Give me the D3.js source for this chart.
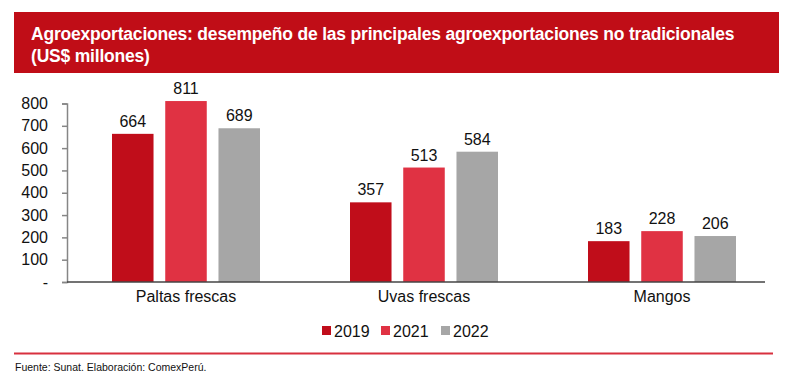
<!DOCTYPE html>
<html><head><meta charset="utf-8">
<script src="https://cdn.jsdelivr.net/npm/d3@7"></script>
<style>body{margin:0;background:#fff;}svg{display:block;font-family:"Liberation Sans",Arial,sans-serif;}</style>
</head><body>
<script>
const categories = ["Paltas frescas", "Uvas frescas", "Mangos"];
const seriesNames = ["2019", "2021", "2022"];
const values2019 = [664, 357, 183];
const values2021 = [811, 513, 228];
const values2022 = [689, 584, 206];
const yTicks = [0, 100, 200, 300, 400, 500, 600, 700, 800];
const colors = ["#C00D1A", "#E03243", "#A6A6A6"];
const title1 = "Agroexportaciones: desempeño de las principales agroexportaciones no tradicionales";
const title2 = "(US$ millones)";
const source = "Fuente: Sunat. Elaboración: ComexPerú.";

const series = [values2019, values2021, values2022];
const W = 794, H = 380;
const svg = d3.select("body").append("svg").attr("width", W).attr("height", H);

// title box
svg.append("rect").attr("x", 14).attr("y", 12).attr("width", 765).attr("height", 61).attr("fill", "#C00D17");
svg.append("text").attr("x", 31).attr("y", 40).attr("fill", "#fff").attr("font-size", 17.5).attr("font-weight", "bold").attr("letter-spacing", -0.2).text(title1);
svg.append("text").attr("x", 31).attr("y", 62).attr("fill", "#fff").attr("font-size", 17.5).attr("font-weight", "bold").attr("letter-spacing", -0.2).text(title2);

const x0 = d3.scaleBand().domain(categories).range([67, 781]).paddingInner(0).paddingOuter(0);
const x1 = d3.scaleBand().domain(seriesNames).range([0, 148]).paddingInner(0.22).paddingOuter(0);
const y = d3.scaleLinear().domain([0, 800]).range([282, 103.5]);

// y axis
const yAxis = d3.axisLeft(y).tickValues(yTicks).tickSize(5).tickPadding(14).tickFormat(d => d === 0 ? "-" : d);
const gy = svg.append("g").attr("transform", "translate(67,0)").call(yAxis);
gy.select(".domain").attr("stroke", "#868686").attr("stroke-width", 1.5);
gy.selectAll(".tick line").attr("stroke", "#868686").attr("stroke-width", 1.5);
gy.selectAll(".tick text").attr("font-size", 16).attr("fill", "#111").attr("font-family", "Liberation Sans, Arial, sans-serif");

// bars
categories.forEach((c, ci) => {
  const gx = x0(c) + (x0.bandwidth() - 148) / 2;
  seriesNames.forEach((s, si) => {
    const v = series[si][ci];
    svg.append("rect").attr("x", gx + x1(s)).attr("y", y(v)).attr("width", x1.bandwidth()).attr("height", y(0) - y(v)).attr("fill", colors[si]);
    svg.append("text").attr("x", gx + x1(s) + x1.bandwidth() / 2).attr("y", y(v) - 7).attr("text-anchor", "middle").attr("font-size", 16).attr("fill", "#111").text(v);
  });
});

// x axis
const xAxis = d3.axisBottom(x0).tickSize(0).tickPadding(9);
const gx = svg.append("g").attr("transform", "translate(0,282)").call(xAxis);
gx.select(".domain").remove();
gx.append("line").attr("x1", 67).attr("x2", 765).attr("stroke", "#444").attr("stroke-width", 1.5);
gx.selectAll(".tick text").attr("font-size", 16).attr("fill", "#111").attr("font-family", "Liberation Sans, Arial, sans-serif");

// legend
const legX = [322, 381, 441];
seriesNames.forEach((s, i) => {
  svg.append("rect").attr("x", legX[i]).attr("y", 326).attr("width", 9).attr("height", 9).attr("fill", colors[i]);
  svg.append("text").attr("x", legX[i] + 12).attr("y", 337).attr("font-size", 16).attr("fill", "#111").text(s);
});

// bottom line & source
svg.append("line").attr("x1", 14).attr("x2", 773).attr("y1", 353.5).attr("y2", 353.5).attr("stroke", "#D8303F").attr("stroke-width", 2);
svg.append("text").attr("x", 15).attr("y", 371).attr("font-size", 10.5).attr("fill", "#111").text(source);
</script>
</body></html>
